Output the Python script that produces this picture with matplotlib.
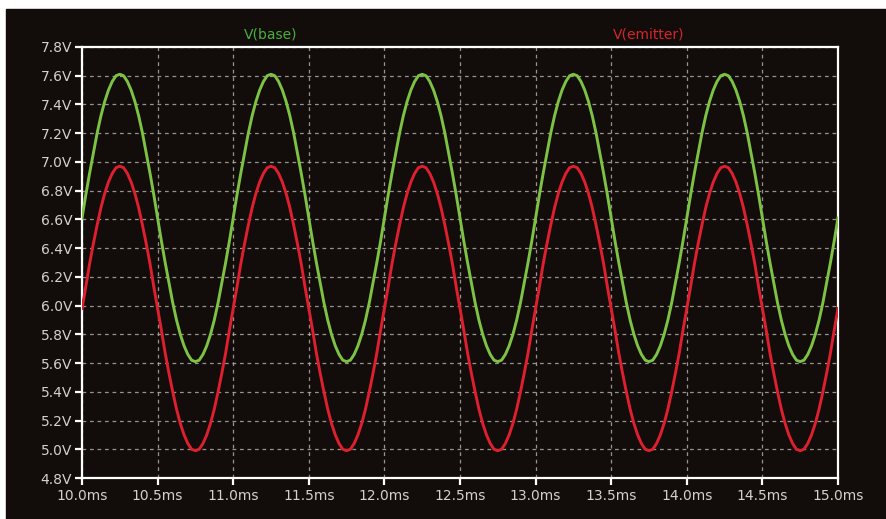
import numpy as np
import matplotlib.pyplot as plt
from matplotlib.patches import Rectangle

# time axis in ms, sampled every 0.025 ms
time_ms = np.linspace(10.0, 15.0, 201)

# voltages (V), one cycle = two rows
v_base = [
    6.61, 6.77, 6.92, 7.06, 7.20, 7.32, 7.42, 7.50, 7.56, 7.60, 7.61, 7.60, 7.56, 7.50, 7.42, 7.32, 7.20, 7.06, 6.92, 6.77,
    6.61, 6.45, 6.30, 6.16, 6.02, 5.90, 5.80, 5.72, 5.66, 5.62, 5.61, 5.62, 5.66, 5.72, 5.80, 5.90, 6.02, 6.16, 6.30, 6.45,
    6.61, 6.77, 6.92, 7.06, 7.20, 7.32, 7.42, 7.50, 7.56, 7.60, 7.61, 7.60, 7.56, 7.50, 7.42, 7.32, 7.20, 7.06, 6.92, 6.77,
    6.61, 6.45, 6.30, 6.16, 6.02, 5.90, 5.80, 5.72, 5.66, 5.62, 5.61, 5.62, 5.66, 5.72, 5.80, 5.90, 6.02, 6.16, 6.30, 6.45,
    6.61, 6.77, 6.92, 7.06, 7.20, 7.32, 7.42, 7.50, 7.56, 7.60, 7.61, 7.60, 7.56, 7.50, 7.42, 7.32, 7.20, 7.06, 6.92, 6.77,
    6.61, 6.45, 6.30, 6.16, 6.02, 5.90, 5.80, 5.72, 5.66, 5.62, 5.61, 5.62, 5.66, 5.72, 5.80, 5.90, 6.02, 6.16, 6.30, 6.45,
    6.61, 6.77, 6.92, 7.06, 7.20, 7.32, 7.42, 7.50, 7.56, 7.60, 7.61, 7.60, 7.56, 7.50, 7.42, 7.32, 7.20, 7.06, 6.92, 6.77,
    6.61, 6.45, 6.30, 6.16, 6.02, 5.90, 5.80, 5.72, 5.66, 5.62, 5.61, 5.62, 5.66, 5.72, 5.80, 5.90, 6.02, 6.16, 6.30, 6.45,
    6.61, 6.77, 6.92, 7.06, 7.20, 7.32, 7.42, 7.50, 7.56, 7.60, 7.61, 7.60, 7.56, 7.50, 7.42, 7.32, 7.20, 7.06, 6.92, 6.77,
    6.61, 6.45, 6.30, 6.16, 6.02, 5.90, 5.80, 5.72, 5.66, 5.62, 5.61, 5.62, 5.66, 5.72, 5.80, 5.90, 6.02, 6.16, 6.30, 6.45,
    6.61,
]
v_emitter = [
    5.98, 6.13, 6.29, 6.43, 6.56, 6.68, 6.78, 6.86, 6.92, 6.96, 6.97, 6.96, 6.92, 6.86, 6.78, 6.68, 6.56, 6.43, 6.29, 6.13,
    5.98, 5.83, 5.67, 5.53, 5.40, 5.28, 5.18, 5.10, 5.04, 5.00, 4.99, 5.00, 5.04, 5.10, 5.18, 5.28, 5.40, 5.53, 5.67, 5.83,
    5.98, 6.13, 6.29, 6.43, 6.56, 6.68, 6.78, 6.86, 6.92, 6.96, 6.97, 6.96, 6.92, 6.86, 6.78, 6.68, 6.56, 6.43, 6.29, 6.13,
    5.98, 5.83, 5.67, 5.53, 5.40, 5.28, 5.18, 5.10, 5.04, 5.00, 4.99, 5.00, 5.04, 5.10, 5.18, 5.28, 5.40, 5.53, 5.67, 5.83,
    5.98, 6.13, 6.29, 6.43, 6.56, 6.68, 6.78, 6.86, 6.92, 6.96, 6.97, 6.96, 6.92, 6.86, 6.78, 6.68, 6.56, 6.43, 6.29, 6.13,
    5.98, 5.83, 5.67, 5.53, 5.40, 5.28, 5.18, 5.10, 5.04, 5.00, 4.99, 5.00, 5.04, 5.10, 5.18, 5.28, 5.40, 5.53, 5.67, 5.83,
    5.98, 6.13, 6.29, 6.43, 6.56, 6.68, 6.78, 6.86, 6.92, 6.96, 6.97, 6.96, 6.92, 6.86, 6.78, 6.68, 6.56, 6.43, 6.29, 6.13,
    5.98, 5.83, 5.67, 5.53, 5.40, 5.28, 5.18, 5.10, 5.04, 5.00, 4.99, 5.00, 5.04, 5.10, 5.18, 5.28, 5.40, 5.53, 5.67, 5.83,
    5.98, 6.13, 6.29, 6.43, 6.56, 6.68, 6.78, 6.86, 6.92, 6.96, 6.97, 6.96, 6.92, 6.86, 6.78, 6.68, 6.56, 6.43, 6.29, 6.13,
    5.98, 5.83, 5.67, 5.53, 5.40, 5.28, 5.18, 5.10, 5.04, 5.00, 4.99, 5.00, 5.04, 5.10, 5.18, 5.28, 5.40, 5.53, 5.67, 5.83,
    5.98,
]

x_ticks = [10.0, 10.5, 11.0, 11.5, 12.0, 12.5, 13.0, 13.5, 14.0, 14.5, 15.0]
y_ticks = [4.8, 5.0, 5.2, 5.4, 5.6, 5.8, 6.0, 6.2, 6.4, 6.6, 6.8, 7.0, 7.2, 7.4, 7.6, 7.8]

bg = "#120d0b"
label_col = "#d4d0ca"

fig = plt.figure(figsize=(8.86, 5.19), dpi=100, facecolor="white")
# dark panel, leaving the thin white strip at left and top
fig.patches.append(Rectangle((6 / 886, 0), 1 - 6 / 886, 1 - 9 / 519,
                             transform=fig.transFigure, color=bg, zorder=-10))

ax = fig.add_axes([82 / 886, 1 - 478 / 519, 756 / 886, 431 / 519])
ax.set_facecolor(bg)

ax.plot(time_ms, v_base, color="#7dc242", lw=2.1, zorder=3)
ax.plot(time_ms, v_emitter, color="#de1f2e", lw=2.1, zorder=3)

ax.set_xlim(10.0, 15.0)
ax.set_ylim(4.8, 7.8)
ax.set_xticks(x_ticks)
ax.set_xticklabels(["%.1fms" % t for t in x_ticks])
ax.set_yticks(y_ticks)
ax.set_yticklabels(["%.1fV" % v for v in y_ticks])

ax.grid(True, color="#b8b4ae", lw=0.9, linestyle=(0, (3, 3)), alpha=0.8, zorder=1)
for s in ax.spines.values():
    s.set_color("white")
    s.set_linewidth(1.6)
ax.tick_params(axis="both", colors="white", labelcolor=label_col,
               labelsize=10, width=1.6, length=5, direction="out", pad=2)
ax.tick_params(axis="x", pad=3)

ax.text(0.25, 1.028, "V(base)", transform=ax.transAxes, ha="center", va="center",
        color="#4aae3c", fontsize=10)
ax.text(0.75, 1.028, "V(emitter)", transform=ax.transAxes, ha="center", va="center",
        color="#d4242c", fontsize=10)

fig.savefig("out.png", dpi=100, facecolor=fig.get_facecolor())
